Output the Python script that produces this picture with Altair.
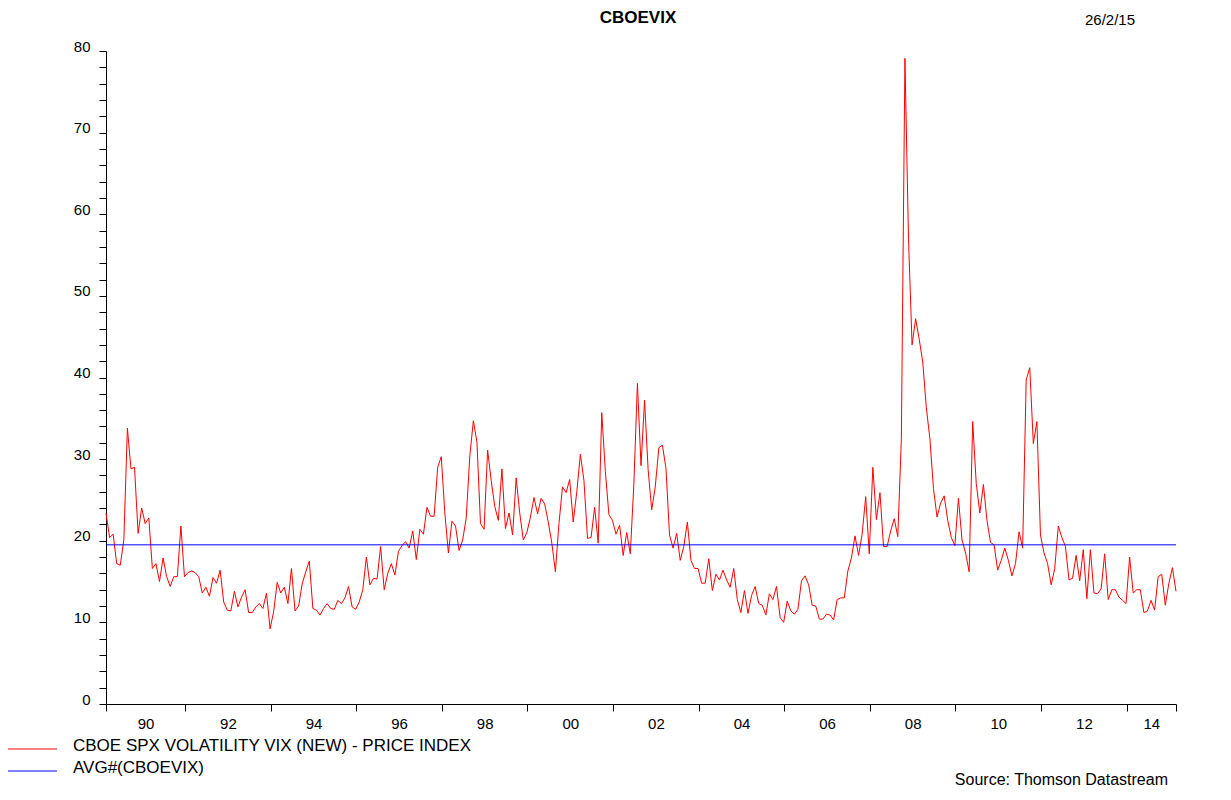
import altair as alt
import pandas as pd

# ---- data: monthly samples (26th of each month), Feb 1990 .. Feb 2015 ----
start_year = 1990
start_month = 2
sample_day = 26

vix = [
    # Feb90 .. Jan91
    23.4, 20.4, 20.8, 17.2, 17.0, 20.1, 33.8, 28.8, 29.0, 20.9, 24.0, 22.1,
    # Feb91 .. Jan92
    22.8, 16.6, 17.2, 15.0, 17.9, 15.6, 14.4, 15.6, 15.6, 21.8, 15.6, 16.1,
    # Feb92 .. Jan93
    16.3, 16.1, 15.6, 13.6, 14.3, 13.2, 15.5, 14.8, 16.4, 12.5, 11.5, 11.4,
    # Feb93 .. Jan94
    13.8, 11.9, 13.1, 14.0, 11.2, 11.2, 11.9, 12.3, 11.7, 13.6, 9.2, 11.3,
    # Feb94 .. Jan95
    14.9, 13.6, 14.3, 12.3, 16.6, 11.4, 12.0, 14.7, 16.2, 17.5, 11.7, 11.5,
    # Feb95 .. Jan96
    10.9, 11.7, 12.3, 11.7, 11.6, 12.7, 12.3, 13.0, 14.4, 11.9, 11.6, 12.5,
    # Feb96 .. Jan97
    14.0, 18.0, 14.6, 15.4, 15.3, 19.3, 14.0, 16.0, 17.2, 15.8, 18.7, 19.4,
    # Feb97 .. Jan98
    19.9, 19.1, 21.2, 17.7, 21.4, 20.8, 24.1, 23.0, 23.0, 29.0, 30.3, 23.4,
    # Feb98 .. Jan99
    18.5, 22.4, 21.8, 18.8, 20.1, 22.8, 30.4, 34.7, 32.1, 22.1, 21.4, 31.1,
    # Feb99 .. Jan00
    27.4, 24.2, 22.5, 28.8, 21.5, 23.4, 20.7, 27.7, 23.4, 20.1, 21.0, 22.9,
    # Feb00 .. Jan01
    25.3, 23.3, 25.2, 24.5, 22.3, 19.7, 16.2, 22.1, 26.6, 25.9, 27.5, 22.3,
    # Feb01 .. Jan02
    26.0, 30.6, 27.4, 20.3, 20.4, 24.1, 19.7, 35.7, 28.5, 23.2, 22.5, 20.8,
    # Feb02 .. Jan03
    21.9, 18.2, 21.0, 18.4, 27.0, 39.3, 29.2, 37.2, 28.7, 23.8, 26.6, 31.4,
    # Feb03 .. Jan04
    31.7, 28.9, 20.7, 19.1, 20.9, 17.6, 19.3, 22.3, 17.6, 16.6, 16.6, 14.8,
    # Feb04 .. Jan05
    14.8, 17.8, 13.9, 15.9, 15.2, 16.4, 15.2, 14.3, 16.6, 12.8, 11.2, 13.9,
    # Feb05 .. Jan06
    11.1, 13.3, 14.4, 12.3, 12.1, 10.9, 13.5, 12.8, 14.4, 10.6, 10.0, 12.6,
    # Feb06 .. Jan07
    11.4, 11.0, 11.6, 15.1, 15.7, 14.6, 12.1, 12.0, 10.4, 10.4, 11.0, 10.9,
    # Feb07 .. Jan08
    10.3, 12.8, 13.0, 13.0, 16.3, 17.9, 20.6, 18.2, 20.8, 25.4, 18.4, 29.0,
    # Feb08 .. Jan09
    22.6, 25.9, 19.3, 19.3, 21.2, 22.7, 20.5, 32.5, 79.1, 57.0, 44.0, 47.2,
    # Feb09 .. Jan10
    44.7, 41.9, 36.3, 32.5, 26.4, 22.9, 24.6, 25.5, 22.5, 20.4, 19.4, 25.2,
    # Feb10 .. Jan11
    20.1, 18.5, 16.2, 34.6, 27.0, 23.4, 26.9, 22.5, 19.8, 19.5, 16.4, 17.6,
    # Feb11 .. Jan12
    19.1, 17.6, 15.7, 17.2, 21.1, 19.1, 39.7, 41.2, 31.9, 34.6, 20.7, 18.5,
    # Feb12 .. Jan13
    17.2, 14.6, 16.6, 21.8, 20.4, 19.3, 15.2, 15.4, 18.2, 15.1, 18.9, 12.9,
    # Feb13 .. Jan14
    18.9, 13.6, 13.5, 14.1, 18.4, 12.8, 14.0, 14.0, 13.1, 12.7, 12.3, 18.0,
    # Feb14 .. Jan15
    13.6, 14.0, 14.0, 11.2, 11.4, 12.7, 11.5, 15.6, 15.9, 12.1, 14.8, 16.7,
    # Feb15
    13.8,
]

series_names = ["CBOE SPX VOLATILITY VIX (NEW) - PRICE INDEX", "AVG#(CBOEVIX)"]
series_colors = ["#ff0000", "#0000ff"]
chart_title = "CBOEVIX"
chart_date = "26/2/15"
source_note = "Source: Thomson Datastream"

x_tick_years = list(range(1992, 2015, 2))
x_label_text = ["90", "92", "94", "96", "98", "00", "02", "04", "06", "08", "10", "12", "14"]
y_ticks = list(range(0, 81, 2))

FONT = "Liberation Sans"

# ---- decimal-year time axis ----
t = []
for i in range(len(vix)):
    m = start_month - 1 + i
    yr = start_year + m // 12
    mo = m % 12 + 1
    t.append(round(yr + (mo - 1 + (sample_day - 1) / 30.4) / 12, 4))

df = pd.DataFrame({"t": t, "vix": vix})

bounds = [t[0]] + [float(y) for y in x_tick_years] + [t[-1]]
label_pos = [round((a + b) / 2, 4) for a, b in zip(bounds[:-1], bounds[1:])]
pos_js = "[" + ",".join(repr(float(v)) for v in label_pos) + "]"
txt_js = "[" + ",".join("'%s'" % s for s in x_label_text) + "]"
tick_js = "[" + ",".join(repr(float(v)) for v in bounds) + "]"
x_label_expr = (
    f"indexof({pos_js}, datum.value) >= 0 ? {txt_js}[indexof({pos_js}, datum.value)] : ''"
)
x_values = bounds + label_pos

x_axis = alt.Axis(
    values=x_values,
    tickCount=len(x_values) + 5,
    labelExpr=x_label_expr,
    tickOpacity={"condition": {"test": f"indexof({tick_js}, datum.value) >= 0", "value": 1}, "value": 0},
    tickSize=7,
    tickColor="black",
    tickWidth=1,
    domainColor="black",
    domainWidth=1,
    labelFont=FONT,
    labelFontSize=15,
    labelColor="black",
    labelPadding=5,
    labelOverlap=False,
    labelFlush=False,
    labelBound=False,
    grid=False,
    title=None,
)

y_axis = alt.Axis(
    values=y_ticks,
    tickCount=len(y_ticks) + 5,
    labelExpr="datum.value % 10 == 0 ? datum.label : ''",
    tickSize=7,
    tickColor="black",
    tickWidth=1,
    domainColor="black",
    domainWidth=1,
    labelFont=FONT,
    labelFontSize=15,
    labelColor="black",
    labelPadding=9,
    labelBaseline="alphabetic",
    labelOverlap=False,
    labelFlush=False,
    grid=False,
    title=None,
)

x_enc = alt.X("t:Q", scale=alt.Scale(domain=[t[0], t[-1]], nice=False, zero=False), axis=x_axis)
y_enc = alt.Y("vix:Q", scale=alt.Scale(domain=[0, 80], nice=False), axis=y_axis)

line = alt.Chart(df).mark_line(color=series_colors[0], strokeWidth=1).encode(x=x_enc, y=y_enc)
avg = alt.Chart(df).mark_rule(color=series_colors[1], strokeWidth=1).encode(
    y=alt.Y("mean(vix):Q", axis=y_axis)
)


def label(text, x, y, size=16, align="left", weight="normal", baseline="middle"):
    return alt.Chart(pd.DataFrame({"txt": [text]})).mark_text(
        font=FONT, fontSize=size, fontWeight=weight, align=align, baseline=baseline, color="black"
    ).encode(text="txt:N", x=alt.value(x), y=alt.value(y))


def swatch(color, y):
    return alt.Chart(pd.DataFrame({"k": [0]})).mark_rule(color=color, strokeWidth=1).encode(
        x=alt.value(-98), x2=alt.value(-49), y=alt.value(y)
    )


title_t = label(chart_title, 532, -33, size=17, align="center", weight="bold")
date_t = label(chart_date, 1004, -31, size=15, align="center")
leg1 = swatch(series_colors[0], 698)
leg2 = swatch(series_colors[1], 720)
leg1_t = label(series_names[0], -33, 695, size=17)
leg2_t = label(series_names[1], -33, 717, size=17)
src_t = label(source_note, 1062, 734, size=16, align="right", baseline="alphabetic")

chart = alt.layer(
    line, avg, title_t, date_t, leg1, leg2, leg1_t, leg2_t, src_t
).properties(
    width=1070,
    height=653,
    autosize=alt.AutoSizeParams(type="none"),
    padding={"left": 98, "top": 43, "right": 47, "bottom": 86},
    background="white",
).configure_view(stroke=None)

chart.save("out.html", embed_options={"renderer": "svg", "actions": False})
